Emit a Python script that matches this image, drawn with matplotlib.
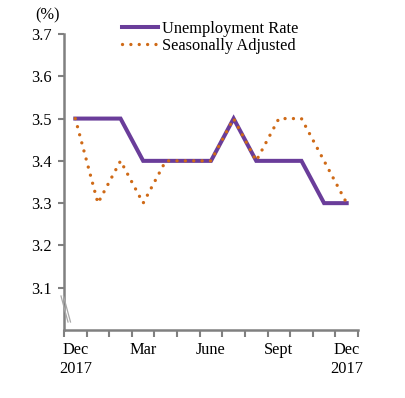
import matplotlib.pyplot as plt
from matplotlib.lines import Line2D
import numpy as np

plt.rcParams['font.family'] = ['Liberation Serif', 'DejaVu Serif']

months = ['Dec', 'Jan', 'Feb', 'Mar', 'Apr', 'May', 'June',
          'Jul', 'Aug', 'Sept', 'Oct', 'Nov', 'Dec']
unemployment = [3.5, 3.5, 3.5, 3.4, 3.4, 3.4, 3.4, 3.5, 3.4, 3.4, 3.4, 3.3, 3.3]
seasonal = [3.5, 3.3, 3.4, 3.3, 3.4, 3.4, 3.4, 3.5, 3.4, 3.5, 3.5, 3.4, 3.3]
tick_pos = [0, 3, 6, 9, 12]
tick_labels = ['Dec\n2017', 'Mar', 'June', 'Sept', 'Dec\n2017']
y_ticks = [3.1, 3.2, 3.3, 3.4, 3.5, 3.6, 3.7]

purple = '#6A3D9A'
orange = '#CF6A17'
gray = '#808080'
fs = 11.8

W, H = 405, 398
fig = plt.figure(figsize=(W / 100, H / 100), dpi=100)
ax = fig.add_axes([64 / W, 1 - 330 / H, (358 - 64) / W, (330 - 34) / H])

x = np.arange(len(months))
ax.plot(x, unemployment, color=purple, lw=2.9, label='Unemployment Rate',
        solid_joinstyle='miter')
ax.plot(x, seasonal, color=orange, lw=2.4, linestyle=(0, (0.01, 2.5)),
        dash_capstyle='round', label='Seasonally Adjusted')

ax.set_xlim(-0.5, len(months) - 0.5)
ax.set_ylim(3.0, 3.7)
ax.set_yticks(y_ticks)
ax.set_yticklabels(['%.1f' % v for v in y_ticks])
ax.set_xticks(tick_pos)
ax.set_xticklabels(tick_labels)
ax.set_xticks(np.arange(-0.5, len(months), 1.0), minor=True)

ax.tick_params(axis='x', which='major', length=0, pad=9, labelsize=fs)
ax.tick_params(axis='x', which='minor', length=5, width=1.5, color=gray,
               direction='out')
ax.tick_params(axis='y', length=4, width=1.5, color=gray, direction='out',
               pad=5, labelsize=fs)

for s in ['top', 'right']:
    ax.spines[s].set_visible(False)
for s in ['left', 'bottom']:
    ax.spines[s].set_color(gray)
    ax.spines[s].set_linewidth(1.8)

# axis break marks
for dx in (0, 2.5):
    fig.add_artist(Line2D([(61 + dx) / W, (68 + dx) / W],
                          [1 - 296 / H, 1 - 322 / H],
                          transform=fig.transFigure, color='#A8A8A8', lw=0.9))

fig.text(48 / W, 1 - 15 / H, '(%)', ha='center', va='center', fontsize=fs)

ax.legend(loc='upper left', bbox_to_anchor=(114 / W, 1 - 13 / H),
          bbox_transform=fig.transFigure, frameon=False, fontsize=fs,
          handlelength=2.2, handletextpad=0.25, borderpad=0, labelspacing=0.05)

fig.savefig('out.png', dpi=100)
plt.close()
